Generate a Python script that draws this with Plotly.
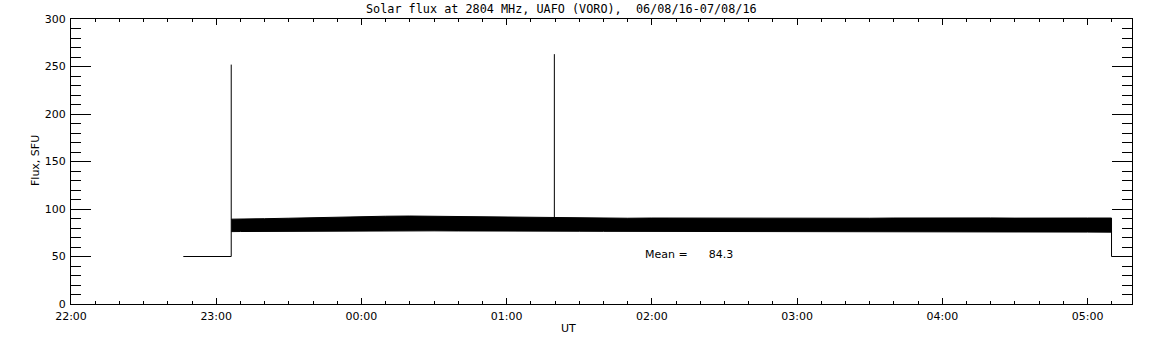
import plotly.graph_objects as go

# ---------------- data ----------------
TITLE = "Solar flux at 2804 MHz, UAFO (VORO),  06/08/16-07/08/16"
X_TITLE = "UT"
Y_TITLE = "Flux, SFU"
MEAN_FLUX = 84.3

# axis ticks
X_TICK_HOURS = [22, 23, 24, 25, 26, 27, 28, 29]
X_TICK_LABELS = ["22:00", "23:00", "00:00", "01:00", "02:00", "03:00", "04:00", "05:00"]
X_RANGE = [22.0, 29.306]
Y_RANGE = [0, 300]

# calibration / off-sun segments and spikes (time "HH:MM.m", flux SFU)
PRE_TIMES = ["22:46.4", "23:06.2", "23:06.2"]
PRE_FLUX = [50, 50, 252]
SPIKE_TIMES = ["01:19.7", "01:19.7"]
SPIKE_FLUX = [90, 263]
POST_TIMES = ["05:09.9", "05:09.9", "05:18.4"]
POST_FLUX = [77, 50, 50]

# envelope of the noisy solar flux band
BAND_TIMES = ["23:06.2", "23:10", "23:20", "23:30", "23:40", "23:50", "00:00", "00:10",
              "00:20", "00:30", "00:40", "00:50", "01:00", "01:10", "01:20", "01:30",
              "01:40", "01:50", "02:00", "02:10", "02:20", "02:30", "02:40", "02:50",
              "03:00", "03:10", "03:20", "03:30", "03:40", "03:50", "04:00", "04:10",
              "04:20", "04:30", "04:40", "04:50", "05:00", "05:09.9"]
BAND_TOP = [89.3, 89.6, 89.8, 90.3, 91.0, 91.4, 91.9, 92.4,
            92.6, 92.3, 92.0, 91.5, 91.2, 91.0, 90.8, 90.5,
            90.4, 90.3, 90.5, 90.4, 90.3, 90.2, 90.2, 90.4,
            90.3, 90.4, 90.5, 90.3, 90.5, 90.7, 90.8, 90.9,
            90.6, 90.4, 90.2, 90.3, 90.5, 90.5]
BAND_BOT = [76.2, 76.3, 76.4, 76.6, 76.8, 76.9, 77.0, 77.0,
            77.0, 77.0, 76.9, 76.9, 76.8, 76.8, 76.8, 76.6,
            76.5, 76.5, 76.4, 76.3, 76.2, 76.2, 76.2, 76.1,
            76.1, 76.2, 76.1, 76.0, 76.1, 76.0, 76.0, 75.9,
            75.9, 75.8, 75.8, 75.7, 75.7, 75.6]

MEAN_LABEL_POS = ("01:56.5", 52.6)


def to_hours(s):
    hh, mm = s.split(":")
    h = int(hh) + float(mm) / 60.0
    if h < 12:
        h += 24
    return h


FONT = "DejaVu Sans"
TITLE_FONT = "DejaVu Sans Mono"
W, H = 1152, 345
ML, MR, MT, MB = 71, 20, 19, 41
PW, PH = W - ML - MR, H - MT - MB


def px_to_paper(xp, yp):
    return (xp - ML) / PW, (H - MB - yp) / PH


fig = go.Figure()

# band as filled polygon
bx = [to_hours(t) for t in BAND_TIMES]
poly_x = bx + bx[::-1]
poly_y = BAND_TOP + BAND_BOT[::-1]
fig.add_trace(go.Scatter(x=poly_x, y=poly_y, mode="lines", fill="toself",
                         fillcolor="black", line=dict(color="black", width=1),
                         hoverinfo="skip", showlegend=False))

# line segments
lx = ([to_hours(t) for t in PRE_TIMES] + [None] + [to_hours(t) for t in SPIKE_TIMES]
      + [None] + [to_hours(t) for t in POST_TIMES])
ly = PRE_FLUX + [None] + SPIKE_FLUX + [None] + POST_FLUX
fig.add_trace(go.Scatter(x=lx, y=ly, mode="lines", line=dict(color="black", width=1),
                         connectgaps=False, showlegend=False))

txtfont = dict(family=FONT, size=11, color="black")

fig.add_annotation(x=to_hours(MEAN_LABEL_POS[0]), y=MEAN_LABEL_POS[1], xref="x", yref="y",
                   text=f"Mean =&nbsp;&nbsp;&nbsp;&nbsp;&nbsp;&nbsp;{MEAN_FLUX:.1f}", showarrow=False,
                   xanchor="left", yanchor="middle", font=txtfont)

tx, ty = px_to_paper(561.5, 9.5)
fig.add_annotation(x=tx, y=ty, xref="paper", yref="paper", text=TITLE, showarrow=False,
                   xanchor="center", yanchor="middle",
                   font=dict(family=TITLE_FONT, size=11.8, color="black"))

ux, uy = px_to_paper(568, 328)
fig.add_annotation(x=ux, y=uy, xref="paper", yref="paper", text=X_TITLE, showarrow=False,
                   xanchor="center", yanchor="middle", font=txtfont)

fx, fy = px_to_paper(35, 161)
fig.add_annotation(x=fx, y=fy, xref="paper", yref="paper", text=Y_TITLE, showarrow=False,
                   xanchor="center", yanchor="middle", textangle=-90, font=txtfont)

fig.update_layout(
    width=W, height=H,
    margin=dict(l=ML, r=MR, t=MT, b=MB, autoexpand=False),
    paper_bgcolor="white", plot_bgcolor="white",
    font=txtfont,
    showlegend=False,
)

fig.update_xaxes(
    range=X_RANGE, tickvals=X_TICK_HOURS, ticktext=X_TICK_LABELS, automargin=False,
    showgrid=False, zeroline=False, showline=True, linecolor="black", linewidth=1,
    mirror="allticks", ticks="inside", ticklen=6, tickwidth=1, tickcolor="black",
    minor=dict(dtick=1 / 6, tick0=22, ticks="inside", ticklen=3, tickcolor="black", showgrid=False),
    tickfont=txtfont, ticklabelstandoff=2,
)
fig.update_yaxes(
    range=Y_RANGE, dtick=50, tick0=0, automargin=False,
    showgrid=False, zeroline=False, showline=True, linecolor="black", linewidth=1,
    mirror="allticks", ticks="inside", ticklen=20, tickwidth=1, tickcolor="black",
    minor=dict(dtick=10, ticks="inside", ticklen=10, tickcolor="black", showgrid=False),
    tickfont=txtfont, ticklabelstandoff=2,
)

fig.write_html("out.html", config={"displayModeBar": False},
               post_script="document.body.style.margin='0';document.body.style.padding='0';")
